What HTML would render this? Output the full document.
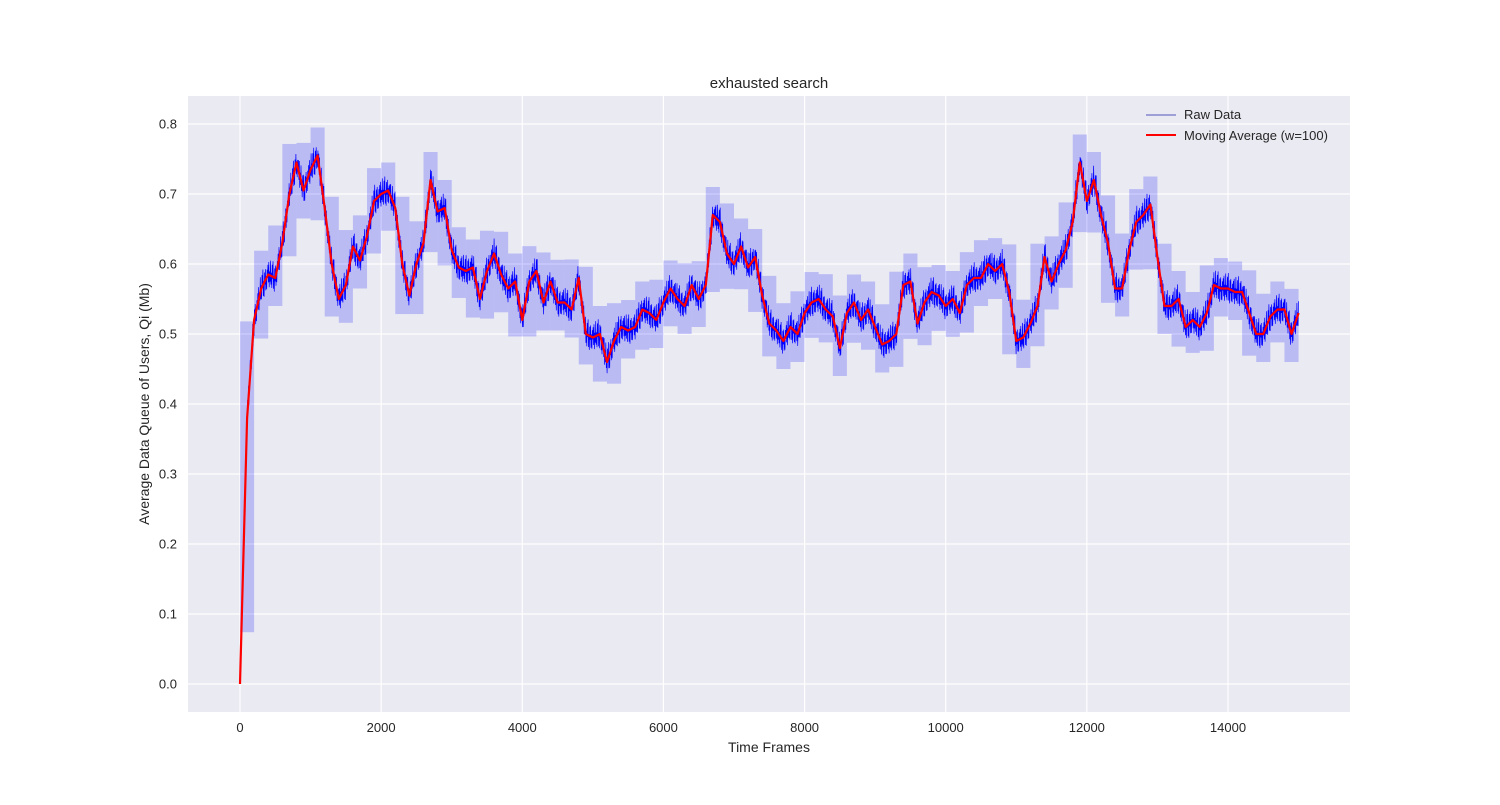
<!DOCTYPE html>
<html><head><meta charset="utf-8"><style>
body{margin:0;background:#fff;}
svg text{font-family:"Liberation Sans",Arial,sans-serif;fill:#262626;}
</style></head><body>
<svg id="chart" width="1500" height="800" xmlns="http://www.w3.org/2000/svg">
<rect x="188" y="96" width="1162" height="616" fill="#eaeaf2"/>
<g id="grid"></g>
<g id="band"></g>
<g id="raw"></g>
<g id="ma"></g>
<g id="ticks"></g>
<text x="769" y="88" font-size="15" text-anchor="middle">exhausted search</text>
<text x="769" y="752" font-size="14" text-anchor="middle">Time Frames</text>
<text x="149" y="404" font-size="14" text-anchor="middle" transform="rotate(-90 149 404)">Average Data Queue of Users, Qi (Mb)</text>
<g>
<line x1="1146" y1="115" x2="1176" y2="115" stroke="#2222aa" stroke-width="0.8"/>
<text x="1184" y="119" font-size="13">Raw Data</text>
<line x1="1146" y1="135" x2="1176" y2="135" stroke="#ff0000" stroke-width="2"/>
<text x="1184" y="140" font-size="13">Moving Average (w=100)</text>
</g>
</svg>
<script>
const frameStep = 100;
const maValues = [0.0,0.38,0.52,0.565,0.585,0.58,0.63,0.70,0.745,0.705,0.735,0.755,0.68,0.6,0.55,0.57,0.625,0.605,0.64,0.69,0.70,0.705,0.68,0.6,0.555,0.6,0.63,0.72,0.675,0.68,0.62,0.595,0.59,0.595,0.55,0.59,0.615,0.585,0.565,0.575,0.52,0.575,0.59,0.545,0.575,0.545,0.545,0.535,0.58,0.5,0.495,0.5,0.46,0.49,0.51,0.505,0.51,0.535,0.53,0.52,0.545,0.565,0.55,0.54,0.57,0.55,0.57,0.67,0.66,0.615,0.6,0.625,0.595,0.61,0.555,0.515,0.505,0.49,0.51,0.5,0.53,0.545,0.55,0.535,0.525,0.48,0.53,0.545,0.52,0.535,0.51,0.485,0.49,0.5,0.57,0.575,0.515,0.545,0.56,0.555,0.54,0.55,0.53,0.57,0.58,0.58,0.6,0.59,0.6,0.56,0.49,0.495,0.515,0.54,0.61,0.575,0.6,0.62,0.66,0.745,0.69,0.72,0.67,0.63,0.565,0.565,0.62,0.66,0.67,0.685,0.61,0.54,0.54,0.55,0.51,0.52,0.51,0.53,0.57,0.565,0.565,0.56,0.56,0.53,0.5,0.5,0.525,0.535,0.535,0.5,0.53];
const xTicks = [0,2000,4000,6000,8000,10000,12000,14000];
const yTicks = [0.0,0.1,0.2,0.3,0.4,0.5,0.6,0.7,0.8];
const noisePattern = [0.9,-0.5,0.3,-1,0.6,-0.2,1,-0.7,0.1,-0.9,0.5,-0.3,0.8,-0.6,0.2,-0.8,0.4,-0.1,0.7,-0.4,1,-0.9,0.2,-0.5];

const NS="http://www.w3.org/2000/svg";
function X(f){return 240+(f/14000)*988;}
function Y(v){return 684-v*700;}
function mk(tag,attrs,parent){const e=document.createElementNS(NS,tag);for(const k in attrs)e.setAttribute(k,attrs[k]);parent.appendChild(e);return e;}
const grid=document.getElementById('grid'),ticks=document.getElementById('ticks');
xTicks.forEach(t=>{
  const l=mk('line',{x1:X(t),x2:X(t),y1:96,y2:712,stroke:'#fff','stroke-width':1.2},grid);
  
  
  const tx=mk('text',{x:X(t),y:732,'font-size':13,'text-anchor':'middle'},ticks);
  tx.textContent=t;
  
  
});
yTicks.forEach(t=>{
  const l=mk('line',{x1:188,x2:1350,y1:Y(t),y2:Y(t),stroke:'#fff','stroke-width':1.2},grid);
  
  
  const tx=mk('text',{x:177,y:Y(t)+4.5,'font-size':13,'text-anchor':'end'},ticks);
  tx.textContent=t.toFixed(1);
  
  
});
function maAt(f){const i=Math.min(Math.floor(f/frameStep),maValues.length-2);const r=f/frameStep-i;return maValues[i]*(1-r)+maValues[i+1]*r;}
const band=document.getElementById('band');
for(let i=0;i<maValues.length-1;i+=2){
  const seg=[maAt(i*frameStep+30),maAt(i*frameStep+100),maAt(Math.min(i*frameStep+170,15000))];
  const lo=Math.max(0,Math.min(...seg)-0.04),hi=Math.max(...seg)+0.04;
  const f0=i*frameStep,f1=Math.min((i+2)*frameStep,15000);
  const r=mk('rect',{x:X(f0),y:Y(hi),width:X(f1)-X(f0),height:Y(lo)-Y(hi),fill:'#0000ff','fill-opacity':0.2},band);
  
  
}
let d='';let k=0;
for(let f=0;f<=15000;f+=6){
  const base=maAt(f);
  const a=noisePattern[k%noisePattern.length],b=noisePattern[(k*5+7)%noisePattern.length];
  const v=base+0.028*a*(0.5+0.5*Math.abs(b))+(f<200?0:0);
  d+=(f===0?'M':'L')+X(f).toFixed(1)+' '+Y(Math.max(0,v)).toFixed(1);k++;
}
const rp=mk('path',{d:d,fill:'none',stroke:'#0000ff','stroke-width':0.7},document.getElementById('raw'));


let dm='';
maValues.forEach((v,i)=>{dm+=(i?'L':'M')+X(i*frameStep).toFixed(1)+' '+Y(v).toFixed(1);});
const mp=mk('path',{d:dm,fill:'none',stroke:'#ff0000','stroke-width':2.2,'stroke-linejoin':'round'},document.getElementById('ma'));


</script>
</body></html>
